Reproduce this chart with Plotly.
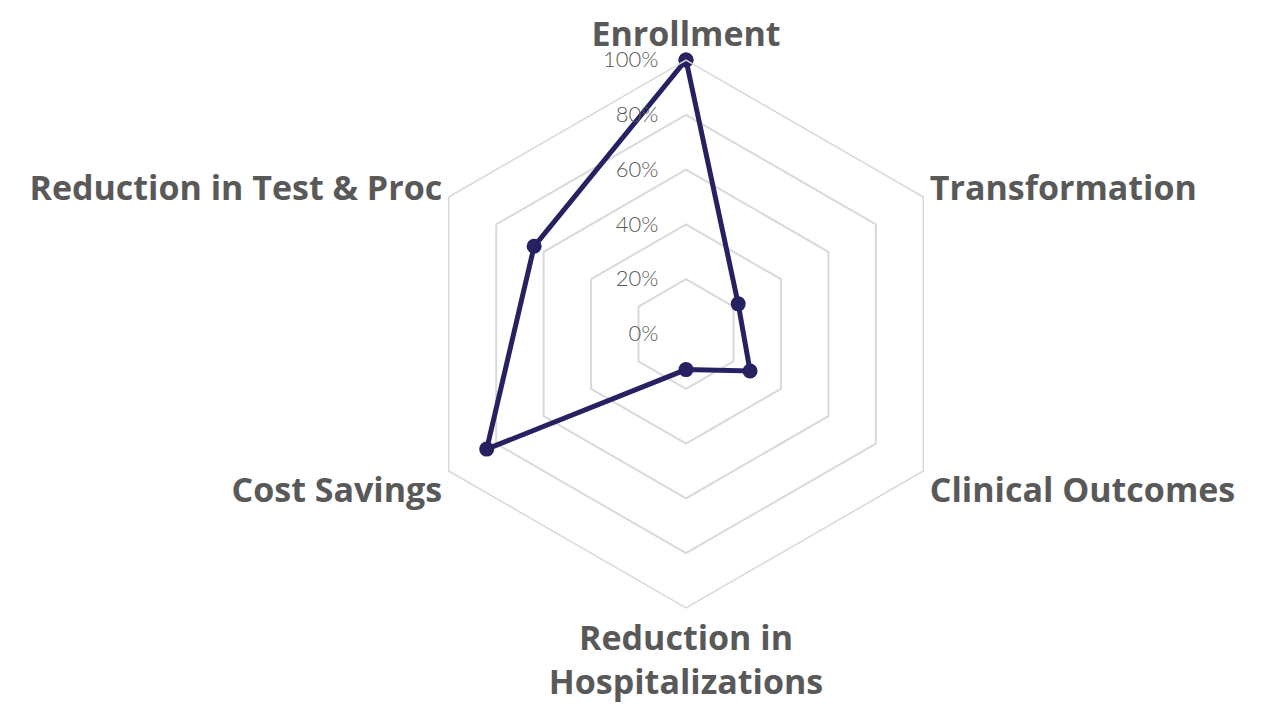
import plotly.graph_objects as go

categories = ["Enrollment", "Transformation", "Clinical Outcomes",
              "Reduction in<br>Hospitalizations", "Cost Savings", "Reduction in Test & Proc"]
values = [100, 22, 27, 13, 84, 64]
tick_vals = [0, 20, 40, 60, 80, 100]
tick_text = ["0%", "20%", "40%", "60%", "80%", "100%"]

W, H = 1272, 708
cx, cy, R = 686, 334, 274
pad = "\u00a0" * 4

fig = go.Figure()
fig.add_trace(go.Scatterpolar(
    r=values + [values[0]],
    theta=categories + [categories[0]],
    mode="lines+markers",
    line=dict(color="#262262", width=5),
    marker=dict(color="#262262", size=15),
    showlegend=False,
    hoverinfo="skip",
))

fig.update_layout(
    width=W, height=H,
    margin=dict(l=0, r=0, t=0, b=0),
    paper_bgcolor="white",
    plot_bgcolor="white",
    polar=dict(
        domain=dict(x=[(cx - R) / W, (cx + R) / W], y=[1 - (cy + R) / H, 1 - (cy - R) / H]),
        bgcolor="white",
        gridshape="linear",
        radialaxis=dict(
            range=[0, 100],
            tickvals=tick_vals,
            ticktext=[t + pad for t in tick_text],
            angle=90,
            tickangle=90,
            side="counterclockwise",
            showline=False,
            ticks="",
            showgrid=True,
            gridcolor="#d9d9d9",
            gridwidth=1.5,
            tickfont=dict(family="Lato", size=22, color="#5a5a5a", weight=300),
        ),
        angularaxis=dict(
            rotation=90,
            direction="clockwise",
            showgrid=False,
            showline=True,
            linecolor="#d9d9d9",
            linewidth=1.5,
            ticks="",
            tickfont=dict(family="Open Sans", size=34, color="#595959", weight="bold"),
        ),
    ),
)

fig.write_html("out.html", config={"displayModeBar": False},
               post_script="document.body.style.margin='0';")
